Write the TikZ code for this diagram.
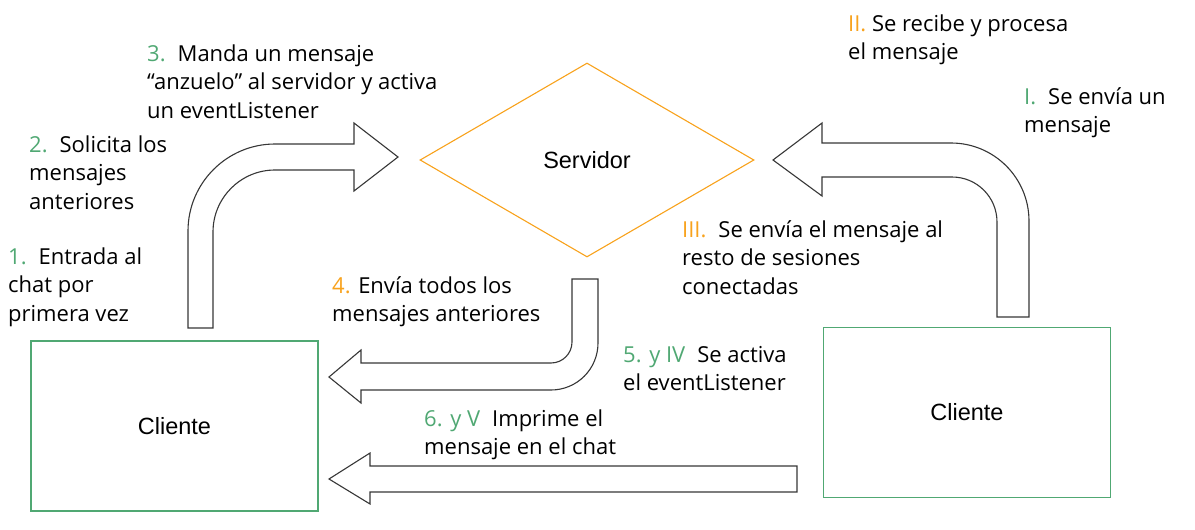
\documentclass[tikz,border=0pt]{standalone}
\usepackage{fontspec}
\setmainfont{Open Sans}
\newfontfamily\boxfont{Liberation Sans}
\usetikzlibrary{shapes.geometric}
\definecolor{grn}{RGB}{80,168,115}
\definecolor{org}{RGB}{248,162,28}
\definecolor{edgegray}{RGB}{55,55,55}
\newcommand\lblfont{\fontsize{22}{28.5}\selectfont}
\newcommand\gap{\hspace{12pt}}
\newcommand\gn[1]{\textcolor{grn}{#1}}
\newcommand\on[1]{\textcolor{org}{#1}}
\begin{document}
\begin{tikzpicture}[x=1pt,y=-1pt,
  lbl/.style={anchor=north west, inner sep=0pt, align=left, font=\lblfont},
  client/.style={draw=grn, line width=1.3pt, minimum width=287pt, minimum height=170pt, inner sep=0pt, font=\boxfont\fontsize{23.5}{28}\selectfont},
  server/.style={diamond, draw=org, line width=1.1pt, minimum width=334pt, minimum height=194pt, inner sep=0pt, font=\boxfont\fontsize{23.5}{28}\selectfont},
  blockarrow/.style={draw=edgegray, line width=1.1pt, fill=white, line join=miter}]
\useasboundingbox (0,0) rectangle (1195,530);

% main shapes
\node[client] (c1) at (174.5,426) {Cliente};
\node[client] (c2) at (967,412.5) {Cliente};
\node[server] (srv) at (587,160) {Servidor};

% block arrow: left client -> server
\draw[blockarrow] (188,328) -- (188,231)
  .. controls (188,183) and (227,144) .. (275,144) -- (354,144) -- (354,123)
  -- (398,157) -- (354,191) -- (354,170) -- (275,170)
  .. controls (240.8,170) and (213,197.8) .. (213,232) -- (213,328) -- cycle;

% block arrow: server -> left client
\draw[blockarrow] (572,279) -- (598,279) -- (598,343)
  .. controls (598,369) and (577,390) .. (551,390) -- (361,390) -- (361,403)
  -- (329,377) -- (361,350) -- (361,363) -- (551,363)
  .. controls (562.6,363) and (572,353.6) .. (572,342) -- cycle;

% block arrow: right client -> server
\draw[blockarrow] (997,317) -- (1029,317) -- (1029,221)
  .. controls (1029,177.9) and (994.1,143) .. (951,143) -- (822,143) -- (822,123)
  -- (773,160) -- (822,196) -- (822,177) -- (952,177)
  .. controls (976.9,177) and (997,197.1) .. (997,222) -- cycle;

% block arrow: right client -> left client
\draw[blockarrow] (797,466) -- (797,492) -- (370,492) -- (370,504)
  -- (329,479) -- (370,453) -- (370,466) -- cycle;

% labels
\node[lbl] (t1) at (8,244) {\strut\gn{1.}\gap Entrada al\\\strut chat por\\\strut primera vez};
\node[lbl] (t2) at (29,132) {\strut\gn{2.}\gap Solicita los\\\strut mensajes\\\strut anteriores};
\node[lbl] (t3) at (147,41) {\strut\gn{3.}\gap Manda un mensaje\\\strut “anzuelo” al servidor y activa\\\strut un eventListener};
\node[lbl] (t4) at (332,273) {\strut\on{4.} Envía todos los\\\strut mensajes anteriores};
\node[lbl] (t5) at (623,342) {\strut\gn{5. y IV}\gap Se activa\\\strut el eventListener};
\node[lbl] (t6) at (424,406) {\strut\gn{6. y V}\gap Imprime el\\\strut mensaje en el chat};
\node[lbl] (tI) at (1024,84) {\strut\gn{I.}\gap Se envía un\\\strut mensaje};
\node[lbl] (tII) at (848,11) {\strut\on{II.} Se recibe y procesa\\\strut el mensaje};
\node[lbl] (tIII) at (682,217) {\strut\on{III.}\gap Se envía el mensaje al\\\strut resto de sesiones\\\strut conectadas};
\end{tikzpicture}
\end{document}
